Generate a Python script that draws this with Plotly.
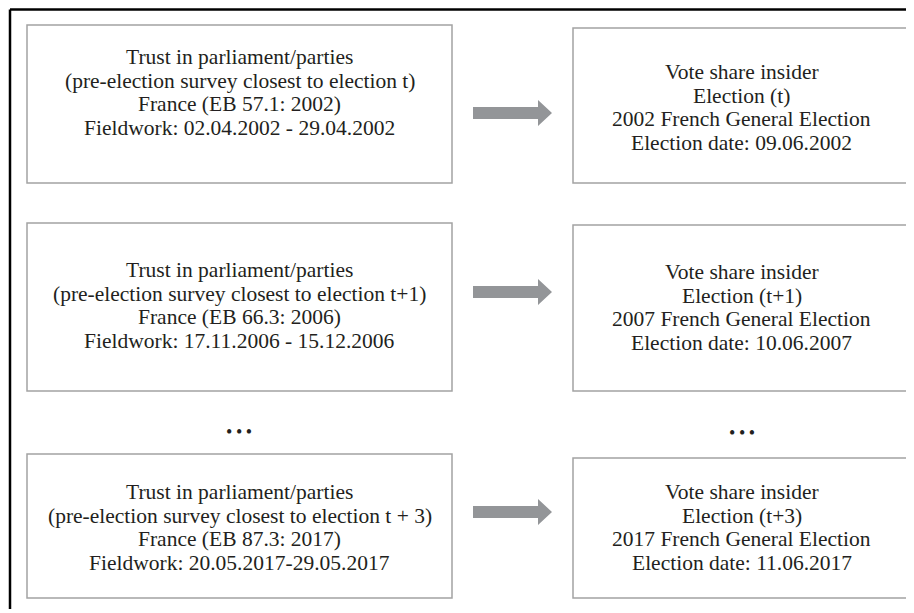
import plotly.graph_objects as go

# ---- content (data) ----
left_texts = [
    ["Trust in parliament/parties", "(pre-election survey closest to election t)",
     "France (EB 57.1: 2002)", "Fieldwork: 02.04.2002 - 29.04.2002"],
    ["Trust in parliament/parties", "(pre-election survey closest to election t+1)",
     "France (EB 66.3: 2006)", "Fieldwork: 17.11.2006 - 15.12.2006"],
    ["Trust in parliament/parties", "(pre-election survey closest to election t + 3)",
     "France (EB 87.3: 2017)", "Fieldwork: 20.05.2017-29.05.2017"],
]
right_texts = [
    ["Vote share insider", "Election (t)", "2002 French General Election",
     "Election date: 09.06.2002"],
    ["Vote share insider", "Election (t+1)", "2007 French General Election",
     "Election date: 10.06.2007"],
    ["Vote share insider", "Election (t+3)", "2017 French General Election",
     "Election date: 11.06.2017"],
]
ellipsis_text = "•\u2009•\u2009•"

# ---- layout geometry (page pixels) ----
W, H = 914, 613
OFF = 8  # default page body margin: figure starts 8px in
LX0, LX1 = 27, 452
RX0, RX1 = 573, 910
left_boxes_y = [(25, 183), (223, 391), (454, 598)]
right_boxes_y = [(28, 183), (225, 391), (458, 598)]
left_first_line = [57, 270, 492]
right_first_line = [72, 272, 492]
LINE_STEP = 23.7
arrow_y = [113, 292, 512]
AX0, AX_SHAFT_END, AX_TIP = 473, 538, 552
SHAFT_H, HEAD_H = 12, 26
FRAME_X, FRAME_Y = 10, 9.5

FONT = "Liberation Serif, Times New Roman, serif"
FSIZE = 21.5
BOX_COLOR = "#a3a3a3"
ARROW_COLOR = "#939598"
TEXT_COLOR = "#231f20"

fig = go.Figure()
shapes = []
annotations = []

# outer frame (top and left edges visible)
shapes.append(dict(type="line", x0=FRAME_X, x1=W + 40, y0=FRAME_Y, y1=FRAME_Y,
                   line=dict(color="black", width=2.5)))
shapes.append(dict(type="line", x0=FRAME_X, x1=FRAME_X, y0=FRAME_Y, y1=H + 40,
                   line=dict(color="black", width=2.5)))


def add_box(x0, x1, y0, y1, first_y, lines):
    shapes.append(dict(type="rect", x0=x0, x1=x1, y0=y0, y1=y1,
                       line=dict(color=BOX_COLOR, width=1.5), fillcolor="white"))
    for i, ln in enumerate(lines):
        annotations.append(dict(x=(x0 + x1) / 2, y=first_y + i * LINE_STEP, text=ln,
                                showarrow=False, xanchor="center", yanchor="middle",
                                align="center",
                                font=dict(family=FONT, size=FSIZE, color=TEXT_COLOR)))


for (y0, y1), fy, lines in zip(left_boxes_y, left_first_line, left_texts):
    add_box(LX0, LX1, y0, y1, fy, lines)
for (y0, y1), fy, lines in zip(right_boxes_y, right_first_line, right_texts):
    add_box(RX0, RX1, y0, y1, fy, lines)

for cy in arrow_y:
    s0, s1 = cy - SHAFT_H / 2, cy + SHAFT_H / 2
    h0, h1 = cy - HEAD_H / 2, cy + HEAD_H / 2
    path = (f"M {AX0},{s0} L {AX_SHAFT_END},{s0} L {AX_SHAFT_END},{h0} "
            f"L {AX_TIP},{cy} L {AX_SHAFT_END},{h1} L {AX_SHAFT_END},{s1} "
            f"L {AX0},{s1} Z")
    shapes.append(dict(type="path", path=path, fillcolor=ARROW_COLOR,
                       line=dict(width=0)))

for x, y in [((LX0 + LX1) / 2 - 1, 432), ((RX0 + RX1) / 2, 433)]:
    annotations.append(dict(x=x, y=y, text=ellipsis_text,
                            showarrow=False, xanchor="center", yanchor="middle",
                            font=dict(family=FONT, size=18, color=TEXT_COLOR)))

# figure fills the window inside the 8px body margin, so the page never overflows
fig.update_layout(
    width=W - OFF, height=H - OFF - 4,
    margin=dict(l=0, r=0, t=0, b=0),
    paper_bgcolor="white", plot_bgcolor="white",
    xaxis=dict(range=[OFF, W], visible=False, fixedrange=True),
    yaxis=dict(range=[H - 4, OFF], visible=False, fixedrange=True),
    shapes=shapes, annotations=annotations,
    showlegend=False,
)

fig.write_html("out.html", config={"displayModeBar": False})
